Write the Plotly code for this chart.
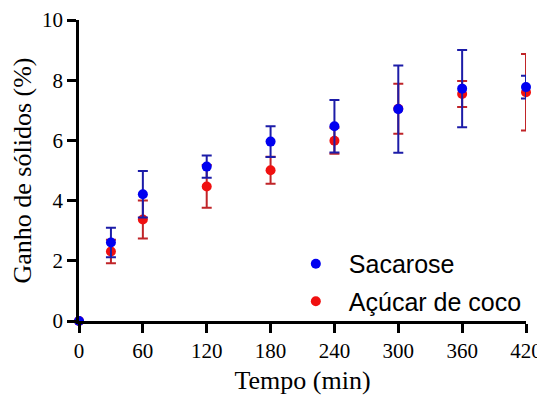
import plotly.graph_objects as go

# Data
tempo = [0, 30, 60, 120, 180, 240, 300, 360, 420]
sacarose = [0, 2.61, 4.21, 5.13, 5.96, 6.47, 7.04, 7.72, 7.77]
sacarose_err = [0, 0.49, 0.77, 0.37, 0.51, 0.87, 1.45, 1.28, 0.38]
coco = [0, 2.31, 3.37, 4.47, 5.01, 5.99, 7.05, 7.54, 7.60]
coco_err = [0, 0.39, 0.63, 0.71, 0.45, 0.43, 0.83, 0.43, 1.27]
x_ticks = [0, 60, 120, 180, 240, 300, 360, 420]
y_ticks = [0, 2, 4, 6, 8, 10]

serif = "Liberation Serif, Times New Roman, serif"
sans = "Liberation Sans, Arial, sans-serif"

fig = go.Figure()
fig.add_trace(go.Scatter(
    x=tempo, y=coco, mode="markers", name="Açúcar de coco",
    marker=dict(color="#f01010", size=10),
    error_y=dict(type="data", array=coco_err, visible=True,
                 color="#c02428", thickness=2, width=5),
    cliponaxis=False, legendgroup="b", legendrank=2,
))
fig.add_trace(go.Scatter(
    x=tempo, y=sacarose, mode="markers", name="Sacarose",
    marker=dict(color="#0000f0", size=10),
    error_y=dict(type="data", array=sacarose_err, visible=True,
                 color="#1c1ca8", thickness=2, width=5),
    cliponaxis=False, legendgroup="a", legendrank=1,
))

axis_common = dict(
    showline=True, linecolor="black", linewidth=2.5,
    ticks="outside", ticklen=9, tickwidth=2.5, tickcolor="black",
    showgrid=False, zeroline=False, automargin=False,
    tickfont=dict(family=serif, size=21, color="black"),
)
fig.update_xaxes(range=[0, 420], tickvals=x_ticks,
                 title=dict(text="Tempo (min)", font=dict(family=serif, size=26, color="black"), standoff=12),
                 **axis_common)
fig.update_yaxes(range=[0, 10], tickvals=y_ticks,
                 title=dict(text="Ganho de sólidos (%)", font=dict(family=serif, size=26, color="black"), standoff=8),
                 **axis_common)

fig.update_layout(
    width=537, height=387,
    margin=dict(l=71, r=19, t=12, b=74),
    paper_bgcolor="white", plot_bgcolor="white",
    showlegend=True,
    legend=dict(x=0.456, y=0.266, xanchor="left", yanchor="top",
                font=dict(family=sans, size=25, color="black"),
                itemwidth=56, traceorder="grouped", tracegroupgap=2,
                bgcolor="rgba(0,0,0,0)"),
)

fig.write_html("out.html")
